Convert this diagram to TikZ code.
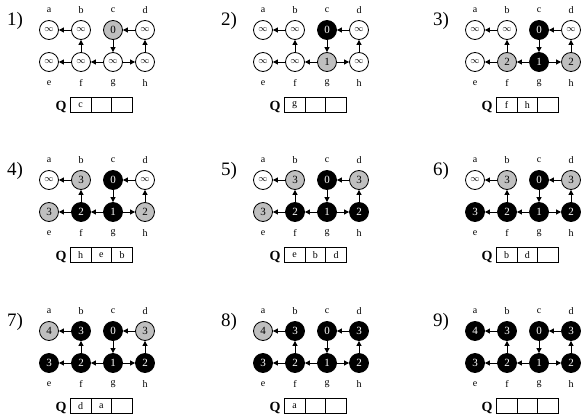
\documentclass[tikz,border=0pt]{standalone}
\usepackage{fontspec}
\setmainfont{Liberation Serif}
\usetikzlibrary{arrows.meta,positioning}

\tikzset{
  vtx/.style={circle,draw,line width=0.8pt,minimum size=19pt,inner sep=0pt,
    font=\fontsize{11}{11}\selectfont},
  wn/.style={vtx,fill=white,font=\fontsize{9}{9}\selectfont},
  gn/.style={vtx,fill=black!25},
  bn/.style={vtx,fill=black,text=white},
  edge/.style={line width=0.8pt,-{Triangle[length=5pt,width=5pt]}},
  vname/.style={font=\fontsize{10}{10}\selectfont},
  steplabel/.style={font=\fontsize{19}{19}\selectfont},
  qname/.style={font=\bfseries\fontsize{14}{14}\selectfont},
  qcell/.style={draw,line width=0.8pt,minimum width=20.7pt,minimum height=15pt,
    inner sep=0pt,outer sep=0pt,font=\fontsize{10}{10}\selectfont},
}

% one step: shift x, shift y, number, vertices a..h, queue cells
\newcommand{\bfsstep}[7]{%
  \begin{scope}[shift={(#1,#2)}]
    \node[steplabel] (lab#3) at (15,21) {#3)};
    \foreach \v/\s/\d [count=\i from 0] in {#4}{
      \pgfmathsetmacro\px{49+32*mod(\i,4)}
      \pgfmathsetmacro\py{\i<4 ? 30 : 62}
      \pgfmathsetmacro\ly{\i<4 ? 10 : 83}
      \node[\s] (p#3\v) at (\px,\py) {\d};
      \node[vname] (t#3\v) at (\px,\ly) {\v};
    }
    \draw[edge] (p#3b) -- (p#3a);
    \draw[edge] (p#3d) -- (p#3c);
    \draw[edge] (p#3f) -- (p#3b);
    \draw[edge] (p#3c) -- (p#3g);
    \draw[edge] (p#3g) -- (p#3f);
    \draw[edge] (p#3f) -- (p#3e);
    \draw[edge] (p#3g) -- (p#3h);
    \draw[edge] (p#3h) -- (p#3d);
    \node[qname] (q#3) at (61,107) {Q};
    \node[qcell,anchor=west] (q#3x) at (70.3,105.2) {#5};
    \node[qcell,right=0pt of q#3x] (q#3y) {#6};
    \node[qcell,right=0pt of q#3y] (q#3z) {#7};
  \end{scope}}

\begin{document}
\begin{tikzpicture}[x=1pt,y=-1pt]
  \useasboundingbox (0,0) rectangle (586,417);

  \bfsstep{0}{0}{1}{a/wn/$\infty$,b/wn/$\infty$,c/gn/0,d/wn/$\infty$,
    e/wn/$\infty$,f/wn/$\infty$,g/wn/$\infty$,h/wn/$\infty$}{c}{}{}
  \bfsstep{214}{0}{2}{a/wn/$\infty$,b/wn/$\infty$,c/bn/0,d/wn/$\infty$,
    e/wn/$\infty$,f/wn/$\infty$,g/gn/1,h/wn/$\infty$}{g}{}{}
  \bfsstep{426}{0}{3}{a/wn/$\infty$,b/wn/$\infty$,c/bn/0,d/wn/$\infty$,
    e/wn/$\infty$,f/gn/2,g/bn/1,h/gn/2}{f}{h}{}

  \bfsstep{0}{150}{4}{a/wn/$\infty$,b/gn/3,c/bn/0,d/wn/$\infty$,
    e/gn/3,f/bn/2,g/bn/1,h/gn/2}{h}{e}{b}
  \bfsstep{214}{150}{5}{a/wn/$\infty$,b/gn/3,c/bn/0,d/gn/3,
    e/gn/3,f/bn/2,g/bn/1,h/bn/2}{e}{b}{d}
  \bfsstep{426}{150}{6}{a/wn/$\infty$,b/gn/3,c/bn/0,d/gn/3,
    e/bn/3,f/bn/2,g/bn/1,h/bn/2}{b}{d}{}

  \bfsstep{0}{301}{7}{a/gn/4,b/bn/3,c/bn/0,d/gn/3,
    e/bn/3,f/bn/2,g/bn/1,h/bn/2}{d}{a}{}
  \bfsstep{214}{301}{8}{a/gn/4,b/bn/3,c/bn/0,d/bn/3,
    e/bn/3,f/bn/2,g/bn/1,h/bn/2}{a}{}{}
  \bfsstep{426}{301}{9}{a/bn/4,b/bn/3,c/bn/0,d/bn/3,
    e/bn/3,f/bn/2,g/bn/1,h/bn/2}{}{}{}
\end{tikzpicture}
\end{document}
